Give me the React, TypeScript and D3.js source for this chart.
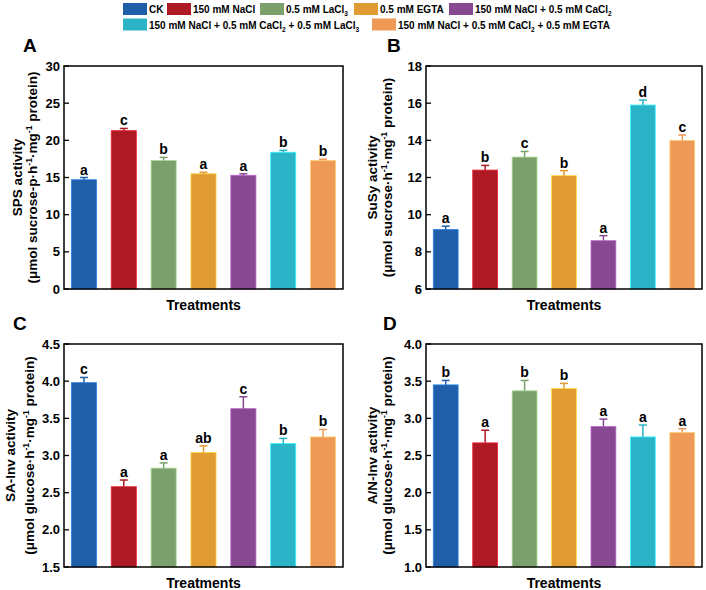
import React from "react";
import * as d3 from "d3";

// treatments / legend
const treatments = [
  "CK",
  "150 mM NaCl",
  "0.5 mM LaCl_3",
  "0.5 mM EGTA",
  "150 mM NaCl + 0.5 mM CaCl_2",
  "150 mM NaCl + 0.5 mM CaCl_2 + 0.5 mM LaCl_3",
  "150 mM NaCl + 0.5 mM CaCl_2 + 0.5 mM EGTA",
];
const colors = ["#1f5fa9", "#ad1a24", "#7ba06c", "#e09b33", "#874a92", "#2bb3c8", "#ee9a56"];

// A: SPS
const spsMean = [14.7, 21.3, 17.3, 15.5, 15.3, 18.4, 17.3];
const spsErr = [0.3, 0.3, 0.4, 0.2, 0.2, 0.25, 0.15];
const spsSig = ["a", "c", "b", "a", "a", "b", "b"];
// B: SuSy
const susyMean = [9.2, 12.4, 13.1, 12.1, 8.6, 15.9, 14.0];
const susyErr = [0.18, 0.25, 0.3, 0.27, 0.27, 0.27, 0.29];
const susySig = ["a", "b", "c", "b", "a", "d", "c"];
// C: SA-Inv
const saMean = [3.98, 2.58, 2.83, 3.04, 3.63, 3.16, 3.25];
const saErr = [0.07, 0.09, 0.07, 0.09, 0.16, 0.07, 0.1];
const saSig = ["c", "a", "a", "ab", "c", "b", "b"];
// D: A/N-Inv
const anMean = [3.45, 2.67, 3.37, 3.4, 2.89, 2.75, 2.81];
const anErr = [0.06, 0.17, 0.14, 0.07, 0.1, 0.16, 0.05];
const anSig = ["b", "a", "b", "b", "a", "a", "a"];

const FONT = "'Liberation Sans', Arial, Helvetica, sans-serif";

// "_x" -> subscript, "^{x}" -> superscript
function rich(str: string, fs: number) {
  const segs: { t: string; shift: number }[] = [];
  const re = /([_^])(\{[^}]*\}|[^\s·]+)/g;
  let last = 0;
  let m: RegExpExecArray | null;
  while ((m = re.exec(str))) {
    if (m.index > last) segs.push({ t: str.slice(last, m.index), shift: 0 });
    segs.push({ t: m[2].replace(/[{}]/g, ""), shift: m[1] === "_" ? fs * 0.3 : -fs * 0.4 });
    last = m.index + m[0].length;
  }
  if (last < str.length) segs.push({ t: str.slice(last), shift: 0 });
  let prev = 0;
  return segs.map((s, k) => {
    const dy = s.shift - prev;
    prev = s.shift;
    return (
      <tspan key={k} dy={dy || undefined} fontSize={s.shift ? fs * 0.65 : fs}>{s.t}</tspan>
    );
  });
}

type PanelProps = {
  letter: string;
  lx: number; ly: number;
  x0: number; x1: number; y0: number; y1: number;
  domain: [number, number];
  step: number;
  fmt: string;
  mean: number[]; err: number[]; sig: string[];
  label1: string; label2: string;
  l1x: number; l2x: number;
};

const Panel = (p: PanelProps) => {
  const x = d3.scaleBand<number>()
    .domain(d3.range(treatments.length))
    .range([p.x0, p.x1])
    .paddingInner(0.37)
    .paddingOuter(0.185);
  const y = d3.scaleLinear().domain(p.domain).range([p.y1, p.y0]);
  const ticks = d3.range(p.domain[0], p.domain[1] + p.step / 2, p.step);
  const f = d3.format(p.fmt);
  const cy = (p.y0 + p.y1) / 2;
  return (
    <g fontFamily={FONT} fontWeight="bold">
      <text x={p.lx} y={p.ly} fontSize={19}>{p.letter}</text>
      {p.mean.map((v, i) => {
        const bx = x(i)!;
        const cx = bx + x.bandwidth() / 2;
        const top = y(v + p.err[i]);
        return (
          <g key={i}>
            <rect x={bx} y={y(v)} width={x.bandwidth()} height={p.y1 - y(v)}
              fill={colors[i]} stroke={d3.color(colors[i])!.brighter(0.9).toString()} strokeWidth={0.8} />
            <line x1={cx} x2={cx} y1={y(v)} y2={top} stroke={colors[i]} strokeWidth={1.5} />
            <line x1={cx - 4} x2={cx + 4} y1={top} y2={top} stroke={colors[i]} strokeWidth={1.5} />
            <text x={cx} y={top - 3} textAnchor="middle" fontSize={14}>{p.sig[i]}</text>
          </g>
        );
      })}
      {ticks.map((t) => (
        <g key={t}>
          <line x1={p.x0} x2={p.x0 + 5} y1={y(t)} y2={y(t)} stroke="#000" strokeWidth={1.3} />
          <text x={p.x0 - 4} y={y(t)} dy="0.35em" textAnchor="end" fontSize={13}>{f(t)}</text>
        </g>
      ))}
      <rect x={p.x0} y={p.y0} width={p.x1 - p.x0} height={p.y1 - p.y0}
        fill="none" stroke="#000" strokeWidth={1.5} />
      <text x={(p.x0 + p.x1) / 2} y={p.y1 + 21} textAnchor="middle" fontSize={14}>Treatments</text>
      <text transform={`translate(${p.l1x},${cy}) rotate(-90)`} textAnchor="middle" fontSize={13.5}>
        {p.label1}
      </text>
      <text transform={`translate(${p.l2x},${cy}) rotate(-90)`} textAnchor="middle" fontSize={13.5}>
        {rich(p.label2, 13.5)}
      </text>
    </g>
  );
};

// legend layout: [item index, swatch x, row]
const legendLayout = [
  [0, 123, 0], [1, 167, 0], [2, 260, 0], [3, 354, 0], [4, 449, 0],
  [5, 123, 1], [6, 372, 1],
];

const App = () => (
  <svg width={706} height={590} style={{ position: "absolute", left: 0, top: 0, background: "#fff" }}>
    <g fontFamily={FONT} fontWeight="bold">
      {legendLayout.map(([i, lx, row]) => (
        <g key={i}>
          <rect x={lx} y={3 + row * 15.5} width={24} height={12} fill={colors[i]} />
          <text x={lx + 26} y={13 + row * 15.5} fontSize={10}>{rich(treatments[i], 10)}</text>
        </g>
      ))}
    </g>
    <Panel letter="A" lx={23} ly={52} x0={64} x1={343} y0={66} y1={289}
      domain={[0, 30]} step={5} fmt="d" mean={spsMean} err={spsErr} sig={spsSig}
      label1="SPS activity" label2="(μmol sucrose-p·h^{-1}·mg^{-1} protein)" l1x={22} l2x={37} />
    <Panel letter="B" lx={387} ly={52} x0={426} x1={702} y0={66} y1={289}
      domain={[6, 18]} step={2} fmt="d" mean={susyMean} err={susyErr} sig={susySig}
      label1="SuSy activity" label2="(μmol sucrose·h^{-1}·mg^{-1} protein)" l1x={377} l2x={392} />
    <Panel letter="C" lx={13} ly={330} x0={64} x1={343} y0={344} y1={567}
      domain={[1.5, 4.5]} step={0.5} fmt=".1f" mean={saMean} err={saErr} sig={saSig}
      label1="SA-Inv activity" label2="(μmol glucose·h^{-1}·mg^{-1} protein)" l1x={15} l2x={34} />
    <Panel letter="D" lx={383} ly={330} x0={426} x1={702} y0={344} y1={567}
      domain={[1.0, 4.0]} step={0.5} fmt=".1f" mean={anMean} err={anErr} sig={anSig}
      label1="A/N-Inv activity" label2="(μmol glucose·h^{-1}·mg^{-1} protein)" l1x={377} l2x={392} />
  </svg>
);

export default App;
